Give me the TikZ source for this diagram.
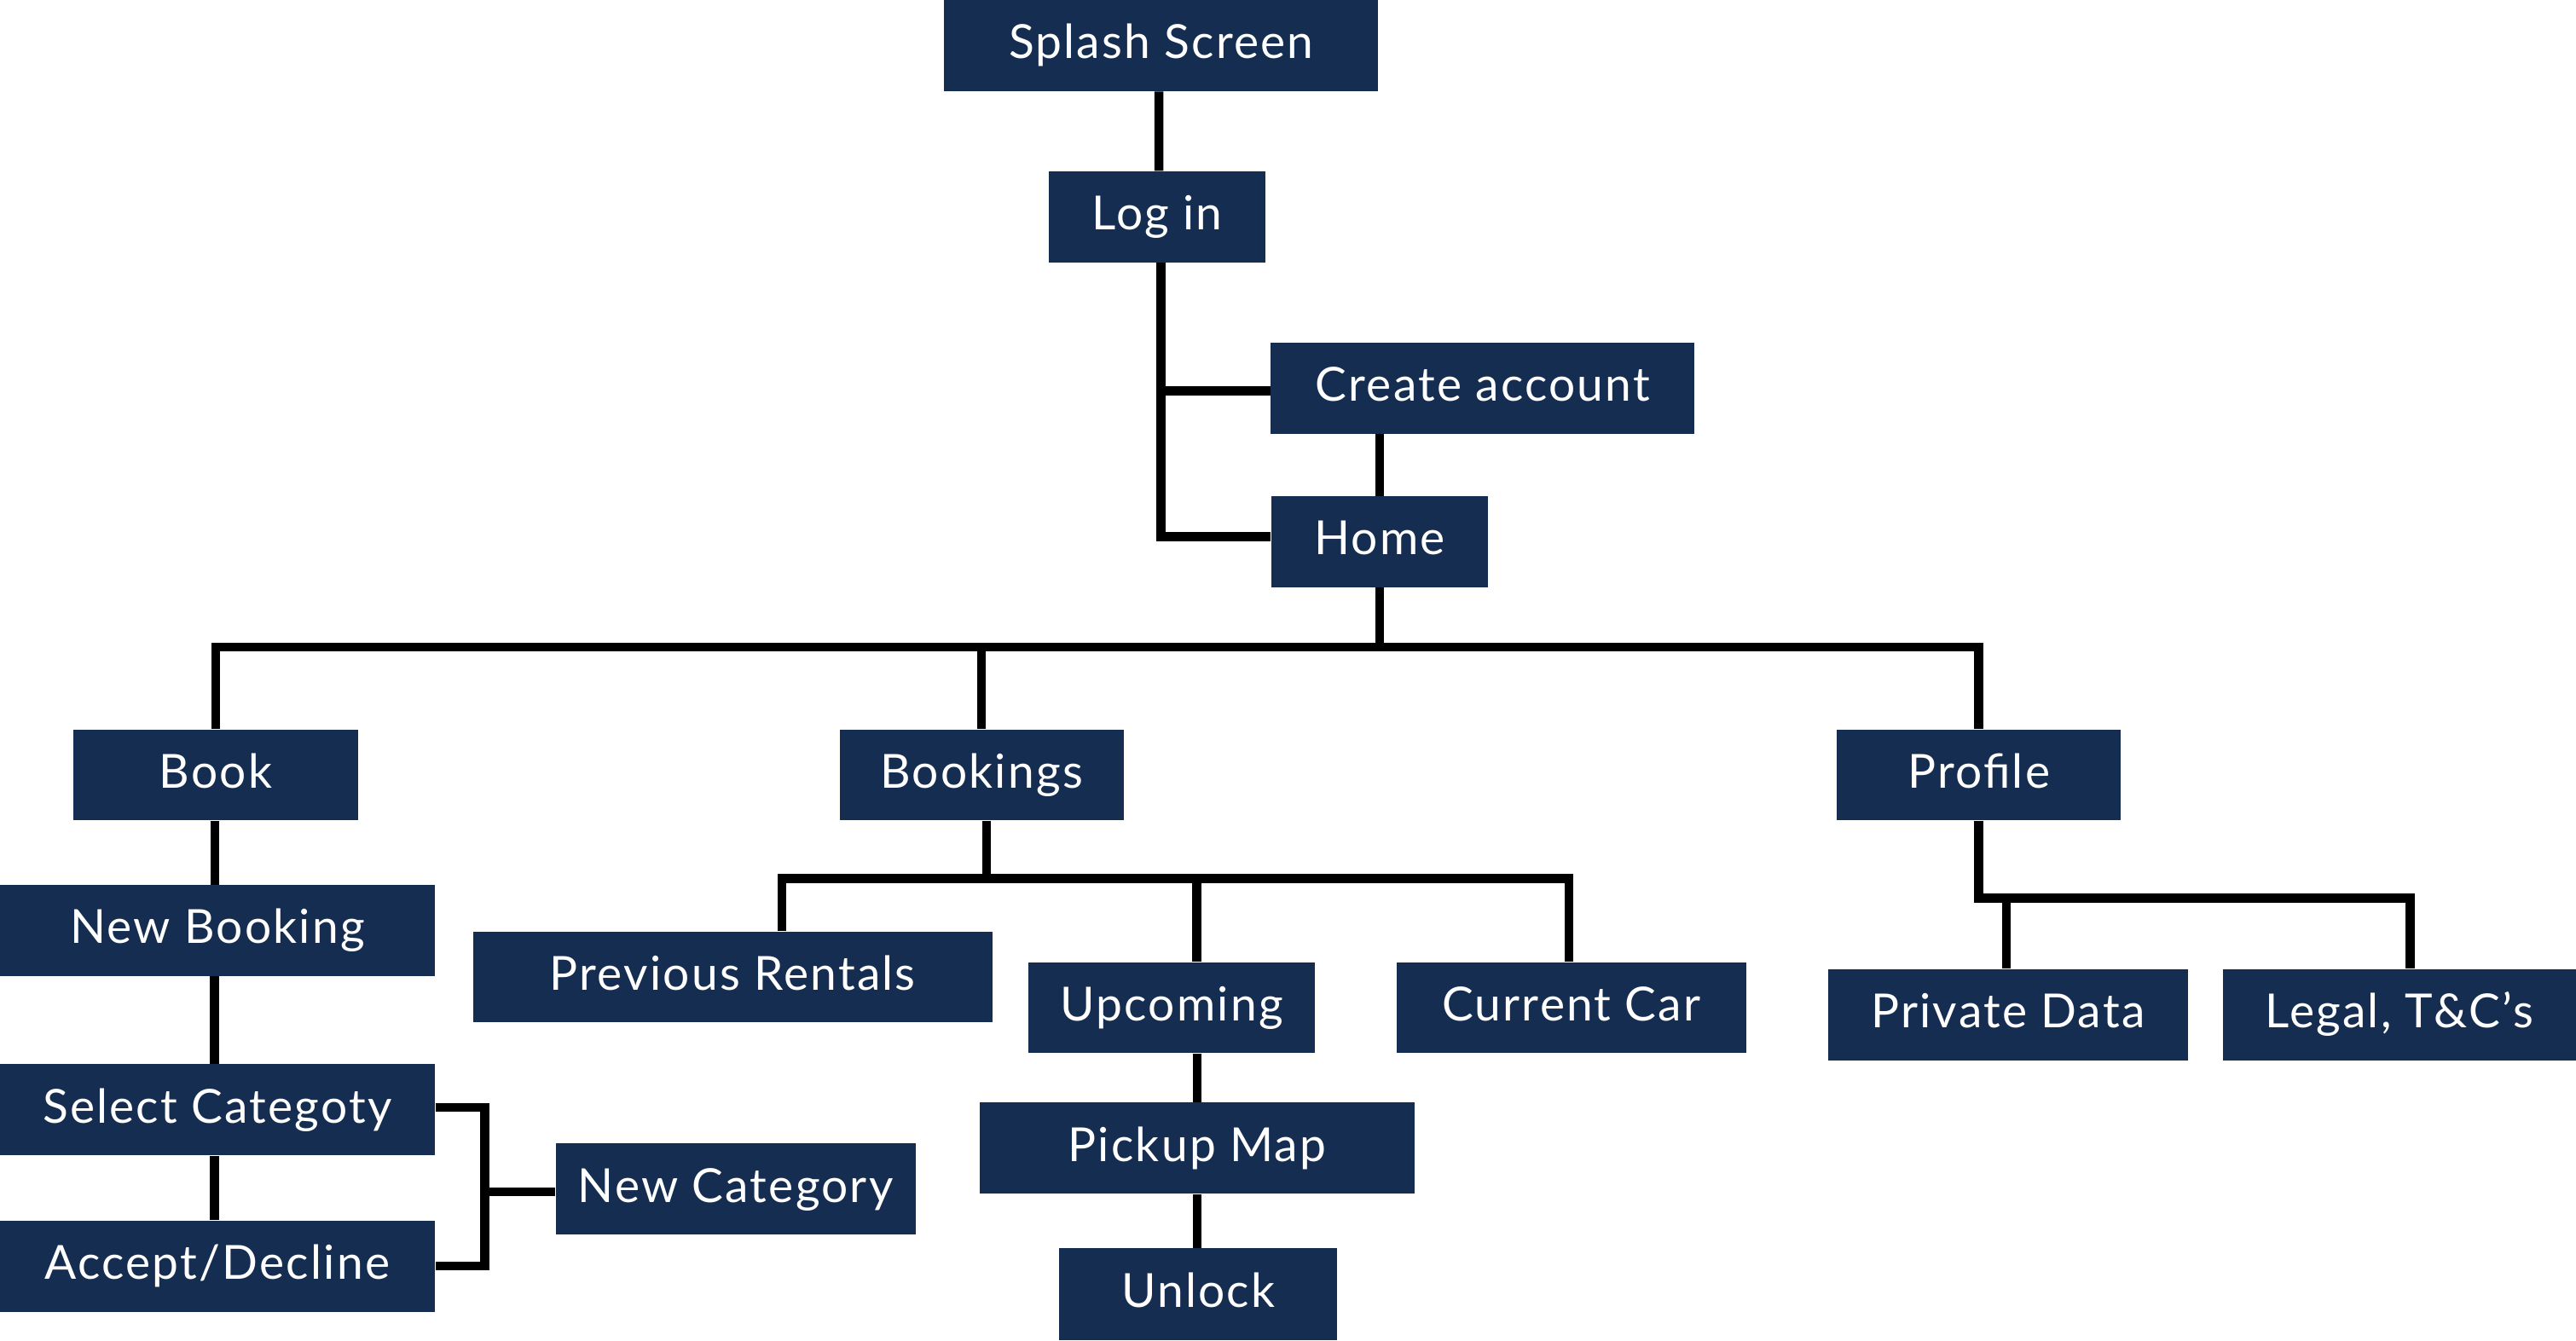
\documentclass[tikz,border=0pt]{standalone}
\usepackage{fontspec}
\setmainfont[LetterSpace=4]{Lato}
\definecolor{navy}{RGB}{21,45,81}
\begin{document}
\begin{tikzpicture}[x=1pt,y=-1pt,
  box/.style={fill=navy, text=white, inner sep=0pt, minimum height=55.5pt,
    text height=21pt, text depth=5pt, font=\fontsize{28.6}{34}\selectfont},
  conn/.style={line width=5.5pt, line join=miter, draw=black}]
\useasboundingbox (0,0) rectangle (1568,816);
% nodes
\node[box, minimum width=264pt] (splash) at (706.8,27.8) {Splash Screen};
\node[box, minimum width=132pt] (login) at (704.4,132) {Log in};
\node[box, minimum width=258pt] (create) at (902.5,236.3) {Create account};
\node[box, minimum width=132pt] (home) at (839.8,329.8) {Home};
\node[box, minimum width=173pt] (book) at (131.3,471.8) {Book};
\node[box, minimum width=173pt] (bookings) at (597.5,471.8) {Bookings};
\node[box, minimum width=173pt] (profile) at (1204.5,471.8) {Profile};
\node[box, minimum width=265pt] (newbook) at (132.3,566.5) {New Booking};
\node[box, minimum width=265pt] (selcat) at (132.3,675.7) {Select Categoty};
\node[box, minimum width=265pt] (accept) at (132.3,770.8) {Accept/Decline};
\node[box, minimum width=219pt] (newcat) at (447.7,724) {New Category};
\node[box, minimum width=316pt] (prev) at (446,594.8) {Previous Rentals};
\node[box, minimum width=174pt] (upcoming) at (713.2,613.5) {Upcoming};
\node[box, minimum width=213pt] (current) at (956.5,613.5) {Current Car};
\node[box, minimum width=265pt] (pickup) at (728.7,699) {Pickup Map};
\node[box, minimum width=169pt, minimum height=56pt] (unlock) at (729.3,788) {Unlock};
\node[box, minimum width=219pt] (private) at (1222.3,617.8) {Private Data};
\node[box, minimum width=215pt] (legal) at (1460.5,617.8) {Legal, T\&C’s};
% connectors
\draw[conn] ([xshift=-1.4pt]splash.south) -- ([xshift=1pt]login.north);
\draw[conn] ([xshift=2.4pt]login.south) |- ([yshift=3pt]home.west);
\draw[conn] ([xshift=2.4pt,yshift=-1.7pt]login.south |- create.west) -- ([yshift=-1.7pt]create.west);
\draw[conn] (home.north) -- (home.north |- create.south);
\draw[conn] (home.south) -- ++(0,37);
\draw[conn] (book.north) -- ++(0,-50) -| (profile.north);
\draw[conn] (bookings.north) -- ++(0,-50);
\draw[conn] ([xshift=-0.5pt]book.south) -- ([xshift=-0.5pt]book.south |- newbook.north);
\draw[conn] ([xshift=-1.8pt]newbook.south) -- ([xshift=-1.8pt]selcat.north);
\draw[conn] ([xshift=-1.8pt]selcat.south) -- ([xshift=-1.8pt]accept.north);
\coordinate (br) at (295,725.5);
\draw[conn] ([yshift=1.4pt]selcat.east) -| (br) |- (accept.east);
\draw[conn] (br) -- (br -| newcat.west);
\draw[conn] ([xshift=3pt]bookings.south) -- ++(0,35.5);
\draw[conn] ([xshift=30pt]prev.north) -- ++(0,-32) -| ([xshift=-1.5pt]current.north);
\draw[conn] ([xshift=15.3pt]upcoming.north) -- ++(0,-51);
\draw[conn] (pickup.north) -- (pickup.north |- upcoming.south);
\draw[conn] (pickup.south) -- (pickup.south |- unlock.north);
\draw[conn] (profile.south) -- ++(0,47) -| ([xshift=6.5pt]legal.north);
\draw[conn] ([xshift=-1pt]private.north) -- ++(0,-44);
\end{tikzpicture}
\end{document}
